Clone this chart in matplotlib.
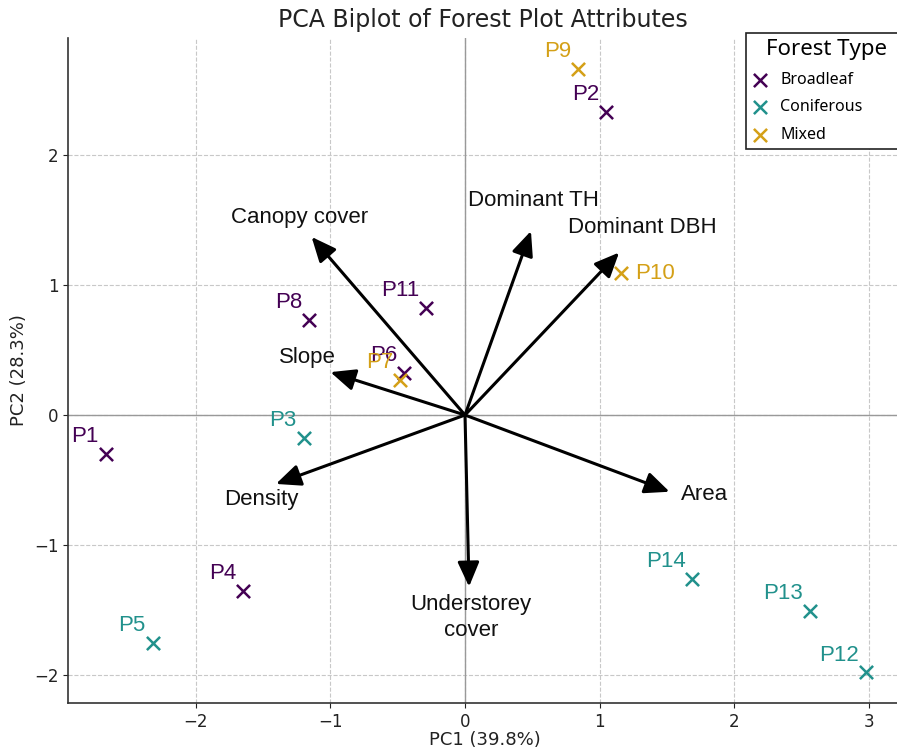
import matplotlib
matplotlib.use("Agg")
import matplotlib.pyplot as plt

# ---- data ----
plots = ["P1", "P2", "P3", "P4", "P5", "P6", "P7", "P8", "P9", "P10", "P11", "P12", "P13", "P14"]
pc1 = [-2.67, 1.05, -1.20, -1.65, -2.32, -0.45, -0.48, -1.16, 0.84, 1.16, -0.29, 2.98, 2.56, 1.69]
pc2 = [-0.30, 2.33, -0.18, -1.35, -1.75, 0.32, 0.27, 0.73, 2.66, 1.09, 0.82, -1.98, -1.51, -1.26]
ftype = ["Broadleaf", "Broadleaf", "Coniferous", "Broadleaf", "Coniferous", "Broadleaf", "Mixed",
         "Broadleaf", "Mixed", "Mixed", "Broadleaf", "Coniferous", "Coniferous", "Coniferous"]
types = ["Broadleaf", "Coniferous", "Mixed"]
type_colors = {"Broadleaf": "#440154", "Coniferous": "#21918c", "Mixed": "#d4a017"}

variables = ["Canopy cover", "Dominant TH", "Dominant DBH", "Slope", "Density", "Area", "Understorey\ncover"]
load1 = [-1.14, 0.49, 1.145, -1.00, -1.405, 1.52, 0.03]
load2 = [1.37, 1.415, 1.25, 0.33, -0.53, -0.59, -1.32]
label1 = [-1.23, 0.51, 1.32, -1.17, -1.51, 1.78, 0.045]
label2 = [1.52, 1.65, 1.44, 0.44, -0.65, -0.61, -1.56]

fig = plt.figure(figsize=(8.97, 7.5), dpi=100)
ax = fig.add_axes([68/897, 1 - 703/750, 1 - 68/897, (703 - 38)/750])

ax.set_xlim(-2.95, 3.21)
ax.set_ylim(-2.215, 2.9)
ax.set_xticks([-2, -1, 0, 1, 2, 3])
ax.set_yticks([-2, -1, 0, 1, 2])
ax.grid(True, linestyle="--", color="#c8c8c8", linewidth=0.8)
ax.set_axisbelow(True)
ax.axhline(0, color="#999999", linewidth=1.0, zorder=1)
ax.axvline(0, color="#999999", linewidth=1.0, zorder=1)
for s in ["top", "right"]:
    ax.spines[s].set_visible(False)
for s in ["left", "bottom"]:
    ax.spines[s].set_color("#333333")
    ax.spines[s].set_linewidth(1.2)
ax.tick_params(labelsize=12, colors="#222222")

# points
for t in types:
    xs = [x for x, ft in zip(pc1, ftype) if ft == t]
    ys = [y for y, ft in zip(pc2, ftype) if ft == t]
    ax.scatter(xs, ys, marker="x", s=90, linewidths=1.8, color=type_colors[t], label=t, zorder=4)

for name, x, y, ft in zip(plots, pc1, pc2, ftype):
    if name == "P10":
        ax.annotate(name, (x, y), xytext=(10, 0), textcoords="offset points", ha="left", va="center",
                    fontsize=16, color=type_colors[ft], family="Liberation Sans", zorder=5)
    else:
        ax.annotate(name, (x, y), xytext=(-5, 5), textcoords="offset points", ha="right", va="bottom",
                    fontsize=16, color=type_colors[ft], family="Liberation Sans", zorder=5)

# loading arrows
for v, lx, ly, tx, ty in zip(variables, load1, load2, label1, label2):
    ax.annotate("", xy=(lx, ly), xytext=(0, 0),
                arrowprops=dict(arrowstyle="-|>,head_length=0.75,head_width=0.33", color="black",
                                lw=2.2, shrinkA=0, shrinkB=0, mutation_scale=20), zorder=3)
    ax.text(tx, ty, v, ha="center", va="center", fontsize=16, family="Liberation Sans",
            color="#111111", zorder=5, linespacing=1.3)

ax.set_title("PCA Biplot of Forest Plot Attributes", fontsize=17, color="#222222", pad=8)
ax.set_xlabel("PC1 (39.8%)", fontsize=13, color="#222222")
ax.set_ylabel("PC2 (28.3%)", fontsize=13, color="#222222")
ax.xaxis.set_label_coords(0.503, -0.042)
ax.yaxis.set_label_coords(-0.048, 0.5)

leg = ax.legend(title="Forest Type", loc="upper left",
                bbox_to_anchor=(746/897, 1 - 33/750, 160/897, 0), mode="expand",
                bbox_transform=fig.transFigure, frameon=True, borderaxespad=0,
                fancybox=False, borderpad=0.4, handletextpad=0.75, handlelength=1.0,
                labelspacing=0.72,
                prop={"family": "Noto Sans", "size": 11.5}, title_fontsize=16)
leg.get_title().set_family("Noto Sans")
leg.get_frame().set_edgecolor("#222222")
leg.get_frame().set_linewidth(1.2)
leg.get_frame().set_alpha(1)

fig.savefig("out.png", dpi=100)
